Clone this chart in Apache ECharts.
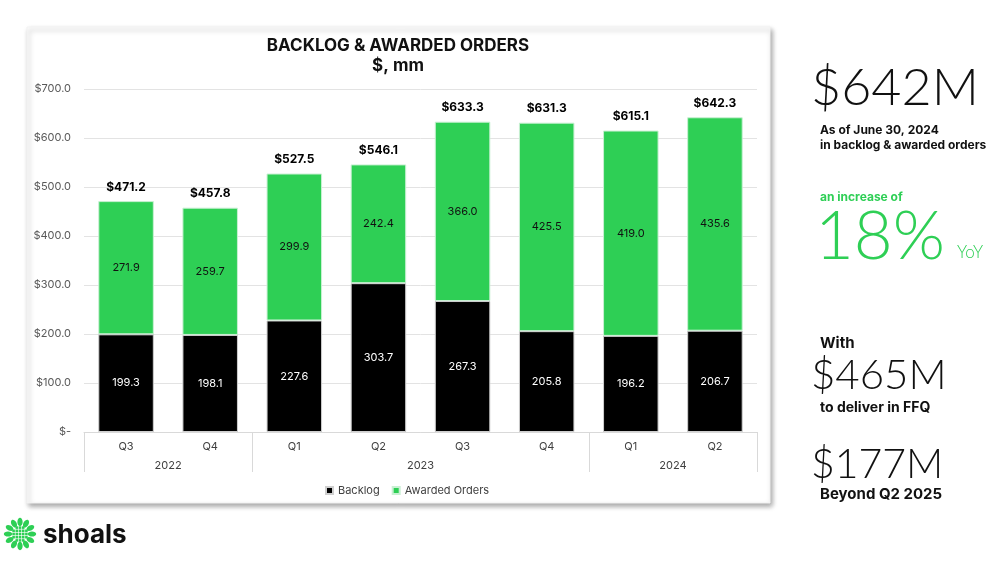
<!DOCTYPE html>
<html>
<head>
<meta charset="utf-8">
<script src="https://cdn.jsdelivr.net/npm/echarts@6/dist/echarts.min.js"></script>
<style>
  html, body { margin: 0; padding: 0; background: #fff; }
  #main { width: 1000px; height: 563px; }
</style>
</head>
<body>
<div id="main"></div>
<script>
// data
var quarters = ['Q3', 'Q4', 'Q1', 'Q2', 'Q3', 'Q4', 'Q1', 'Q2'];
var years = ['2022', '2023', '2024'];
var quartersPerYear = [2, 4, 2];
var backlog = [199.3, 198.1, 227.6, 303.7, 267.3, 205.8, 196.2, 206.7];
var awarded = [271.9, 259.7, 299.9, 242.4, 366.0, 425.5, 419.0, 435.6];
var totals = [471.2, 457.8, 527.5, 546.1, 633.3, 631.3, 615.1, 642.3];
var yTicks = [0, 100, 200, 300, 400, 500, 600, 700];

var GREEN = '#2ecf55';
var BODY = 'Inter, "Open Sans", sans-serif';
var THIN = 'Lato, "Open Sans", sans-serif';

// year boundaries and centres on a 0..8 value axis
var yearEdges = [0], yearMid = {};
quartersPerYear.forEach(function (n, i) {
  var start = yearEdges[yearEdges.length - 1];
  yearEdges.push(start + n);
  yearMid[start + n / 2] = years[i];
});
var yearMidValues = Object.keys(yearMid).map(Number);

// shoals logo petals
function logo(cx, cy) {
  var els = [];
  for (var i = 0; i < 12; i++) {
    var a = i * Math.PI / 6;
    els.push({
      type: 'ellipse',
      shape: { cx: cx + Math.cos(a) * 12, cy: cy + Math.sin(a) * 12, rx: 2.6, ry: 4.2 },
      rotation: -a + Math.PI / 2,
      originX: cx + Math.cos(a) * 12, originY: cy + Math.sin(a) * 12,
      style: { fill: GREEN }
    });
  }
  for (var r = -2; r <= 2; r++) {
    for (var c = -2; c <= 2; c++) {
      if (Math.abs(r) + Math.abs(c) > 3) continue;
      els.push({ type: 'rect', shape: { x: cx + c * 3.2 - 1.3, y: cy + r * 3.2 - 1.3, width: 2.6, height: 2.6 }, style: { fill: GREEN } });
    }
  }
  return els;
}

var myChart = echarts.init(document.getElementById('main'));

// right hand call-outs
var sideText = [
  [811, 88, '$642M', THIN, 52, 300, '#111'],
  [820, 130, 'As of June 30, 2024', BODY, 12, 'bold', '#111'],
  [820, 145, 'in backlog & awarded orders', BODY, 12, 'bold', '#111'],
  [820, 197, 'an increase of', BODY, 12, 'bold', GREEN],
  [815, 237, '18%', THIN, 67, 300, GREEN],
  [957, 253, 'YoY', THIN, 17, 300, GREEN],
  [820, 343, 'With', BODY, 15, 'bold', '#111'],
  [811, 375, '$465M', THIN, 42, 300, '#111'],
  [820, 408, 'to deliver in FFQ', BODY, 14, 'bold', '#111'],
  [811, 465, '$177M', THIN, 41, 300, '#111'],
  [820, 494, 'Beyond Q2 2025', BODY, 15, 'bold', '#111']
].map(function (t) {
  return {
    type: 'text', z: 10, position: [t[0], t[1]],
    style: { text: t[2], fontFamily: t[3], fontSize: t[4], fontWeight: t[5], fill: t[6], align: 'left', verticalAlign: 'middle' }
  };
});

myChart.setOption({
  animation: false,
  textStyle: { fontFamily: BODY },
  graphic: [
    {
      type: 'rect', z: -10,
      shape: { x: 27, y: 27, width: 743, height: 476 },
      style: { fill: '#fff', stroke: '#f2f2f2', lineWidth: 1, shadowBlur: 5, shadowOffsetX: 2, shadowOffsetY: 3, shadowColor: 'rgba(0,0,0,0.35)' }
    },
    {
      type: 'text', z: 10, position: [398, 46],
      style: { text: 'BACKLOG & AWARDED ORDERS', fill: '#111', fontFamily: BODY, fontSize: 17, fontWeight: 'bold', align: 'center', verticalAlign: 'middle' }
    },
    {
      type: 'text', z: 10, position: [398, 66],
      style: { text: '$, mm', fill: '#111', fontFamily: BODY, fontSize: 17, fontWeight: 'bold', align: 'center', verticalAlign: 'middle' }
    },
    {
      type: 'text', z: 10, position: [43, 535],
      style: { text: 'shoals', fill: '#111', fontFamily: BODY, fontSize: 26, fontWeight: 'bold', verticalAlign: 'middle' }
    },
    { type: 'group', children: logo(20, 534) }
  ].concat(sideText),
  legend: {
    left: 320, top: 480,
    icon: 'rect', itemWidth: 7, itemHeight: 7, itemGap: 12,
    textStyle: { fontSize: 11, color: '#404040', fontFamily: BODY },
    data: ['Backlog', 'Awarded Orders']
  },
  grid: { left: 84, right: 243, top: 89, bottom: 131 },
  xAxis: [
    {
      type: 'category', data: quarters, position: 'bottom',
      axisLine: { lineStyle: { color: '#d9d9d9' } },
      axisTick: { show: false },
      axisLabel: { color: '#404040', fontSize: 11, margin: 9 }
    },
    {
      type: 'value', min: 0, max: quarters.length, position: 'bottom',
      axisLine: { show: false },
      splitLine: { show: false },
      axisTick: { show: true, customValues: yearEdges, length: 40, lineStyle: { color: '#d9d9d9' } },
      axisLabel: {
        customValues: yearMidValues, color: '#404040', fontSize: 11, margin: 28,
        formatter: function (v) { return yearMid[v] || ''; }
      }
    }
  ],
  yAxis: {
    type: 'value', min: yTicks[0], max: yTicks[yTicks.length - 1], interval: 100,
    axisLine: { show: false }, axisTick: { show: false },
    splitLine: { lineStyle: { color: '#e3e3e3' } },
    axisLabel: {
      color: '#595959', fontSize: 11, margin: 13,
      formatter: function (v) { return v === 0 ? '$-' : '$' + v.toFixed(1); }
    }
  },
  series: [
    {
      name: 'Backlog', type: 'bar', stack: 'total', barWidth: '66%',
      data: backlog,
      itemStyle: { color: '#000', borderColor: '#cfcfcf', borderWidth: 1 },
      label: { show: true, position: 'inside', color: '#fff', fontSize: 11, formatter: function (p) { return p.value.toFixed(1); } }
    },
    {
      name: 'Awarded Orders', type: 'bar', stack: 'total',
      data: awarded,
      itemStyle: { color: GREEN, borderColor: '#c9f0d3', borderWidth: 1 },
      label: { show: true, position: 'inside', color: '#111', fontSize: 11, formatter: function (p) { return p.value.toFixed(1); } }
    },
    {
      name: 'Total', type: 'scatter', symbolSize: 0, data: totals, silent: true,
      itemStyle: { opacity: 1 },
      label: {
        show: true, position: 'top', distance: 8, color: '#000', fontSize: 12, fontWeight: 'bold',
        formatter: function (p) { return '$' + p.value.toFixed(1); }
      }
    }
  ]
});
</script>
</body>
</html>
